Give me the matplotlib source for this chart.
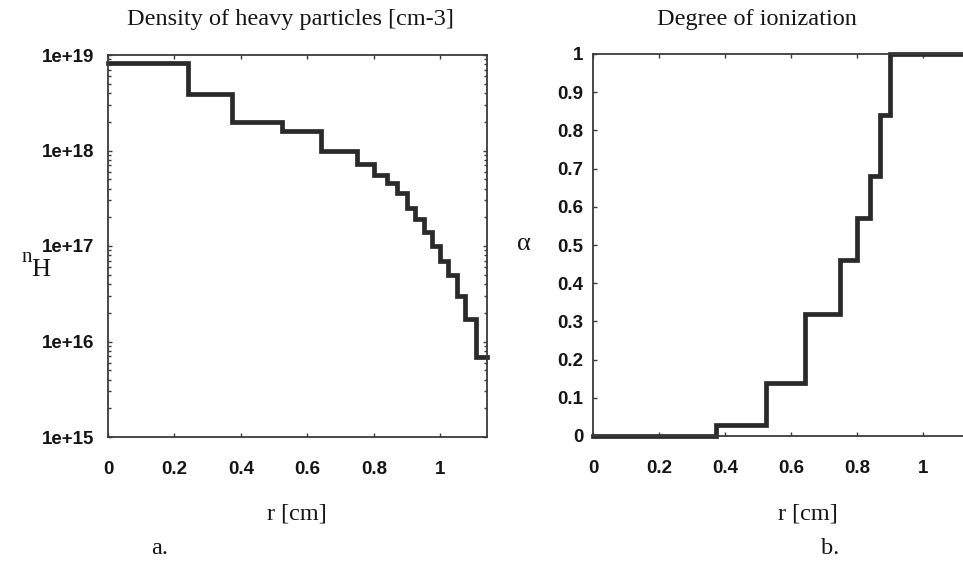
import matplotlib
matplotlib.use("Agg")
import matplotlib.pyplot as plt
import numpy as np

# Radial cell edges [cm]
r_edges = [0.0, 0.242, 0.373, 0.524, 0.642, 0.748, 0.80, 0.839, 0.869, 0.90,
           0.924, 0.949, 0.975, 1.0, 1.024, 1.05, 1.075, 1.106, 1.14]
# Density of heavy particles per cell [cm-3]
n_heavy = [8.3e18, 3.9e18, 2.0e18, 1.6e18, 1.0e18, 7.2e17, 5.5e17, 4.6e17,
           3.6e17, 2.5e17, 1.9e17, 1.4e17, 1.0e17, 7.0e16, 5.0e16, 3.0e16,
           1.7e16, 6.9e15]
# Degree of ionization per cell
alpha = [0.0, 0.0, 0.03, 0.14, 0.32, 0.46, 0.57, 0.68, 0.84, 1.0,
         1.0, 1.0, 1.0, 1.0, 1.0, 1.0, 1.0, 1.0]

x_ticks = [0, 0.2, 0.4, 0.6, 0.8, 1]
x_ticklabels = ["0", "0.2", "0.4", "0.6", "0.8", "1"]
y1_ticks = [1e15, 1e16, 1e17, 1e18, 1e19]
y1_ticklabels = ["1e+15", "1e+16", "1e+17", "1e+18", "1e+19"]
y2_ticks = [0, 0.1, 0.2, 0.3, 0.4, 0.5, 0.6, 0.7, 0.8, 0.9, 1]
y2_ticklabels = ["0", "0.1", "0.2", "0.3", "0.4", "0.5", "0.6", "0.7", "0.8", "0.9", "1"]

W, H = 963, 566
fig = plt.figure(figsize=(W / 100, H / 100), dpi=100)
fig.patch.set_facecolor("white")

line_col = "#2a2a2a"
spine_col = "#3a3a3a"
txt_col = "#151515"
tick_font = dict(family="Liberation Sans", weight="bold", size=13.5)
serif = "Liberation Serif"

def fx(px):
    return px / W

def fy(py):
    return 1 - py / H

ax1 = fig.add_axes([fx(108), fy(437), fx(487) - fx(108), fy(55) - fy(437)])
ax2 = fig.add_axes([fx(593), fy(436), fx(969) - fx(593), fy(54) - fy(436)])

def stairs_xy(edges, vals):
    xs = np.repeat(edges, 2)[1:-1]
    ys = np.repeat(vals, 2)
    return xs, ys

xs, ys = stairs_xy(r_edges, n_heavy)
ax1.plot(xs, ys, color=line_col, lw=3.4, solid_joinstyle="miter", clip_on=False)
ax1.set_yscale("log")
ax1.set_xlim(0, 1.14)
ax1.set_ylim(1e15, 1e19)
ax1.set_yticks(y1_ticks)
ax1.set_yticklabels(y1_ticklabels, fontdict=tick_font)

xs2, ys2 = stairs_xy(r_edges, alpha)
ax2.plot(xs2, ys2, color=line_col, lw=3.4, solid_joinstyle="miter", clip_on=False)
ax2.set_xlim(0, 1.14)
ax2.set_ylim(0, 1)
ax2.set_yticks(y2_ticks)
ax2.set_yticklabels(y2_ticklabels, fontdict=tick_font)

for ax in (ax1, ax2):
    ax.set_xticks(x_ticks)
    ax.set_xticklabels(x_ticklabels, fontdict=tick_font)
    for s in ax.spines.values():
        s.set_color(spine_col)
        s.set_linewidth(1.3)
    ax.tick_params(direction="in", length=3, width=1, color=spine_col,
                   top=True, right=True, which="both", labelcolor=txt_col)
    ax.tick_params(axis="x", pad=17)
    ax.tick_params(which="minor", length=2)

ax1.tick_params(axis="y", pad=10)
ax2.tick_params(axis="y", pad=7)

big = 17.5
# Titles
fig.text(fx(290), fy(19), "Density of heavy particles [cm-3]", family=serif,
         size=big, ha="center", va="center", color=txt_col)
fig.text(fx(757), fy(19), "Degree of ionization", family=serif,
         size=big, ha="center", va="center", color=txt_col)

# Axis labels
fig.text(fx(297), fy(514), "r [cm]", family=serif, size=big,
         ha="center", va="center", color=txt_col)
fig.text(fx(808), fy(514), "r [cm]", family=serif, size=big,
         ha="center", va="center", color=txt_col)
fig.text(fx(160), fy(548), "a.", family=serif, size=big,
         ha="center", va="center", color=txt_col)
fig.text(fx(830), fy(548), "b.", family=serif, size=big,
         ha="center", va="center", color=txt_col)

fig.text(fx(27), fy(257), "n", family=serif, size=15,
         ha="center", va="center", color=txt_col)
fig.text(fx(41), fy(270), "H", family=serif, size=19,
         ha="center", va="center", color=txt_col)
fig.text(fx(524), fy(244), "α", family=serif, size=19,
         ha="center", va="center", color=txt_col)

fig.savefig("out.png", dpi=100, facecolor="white")
